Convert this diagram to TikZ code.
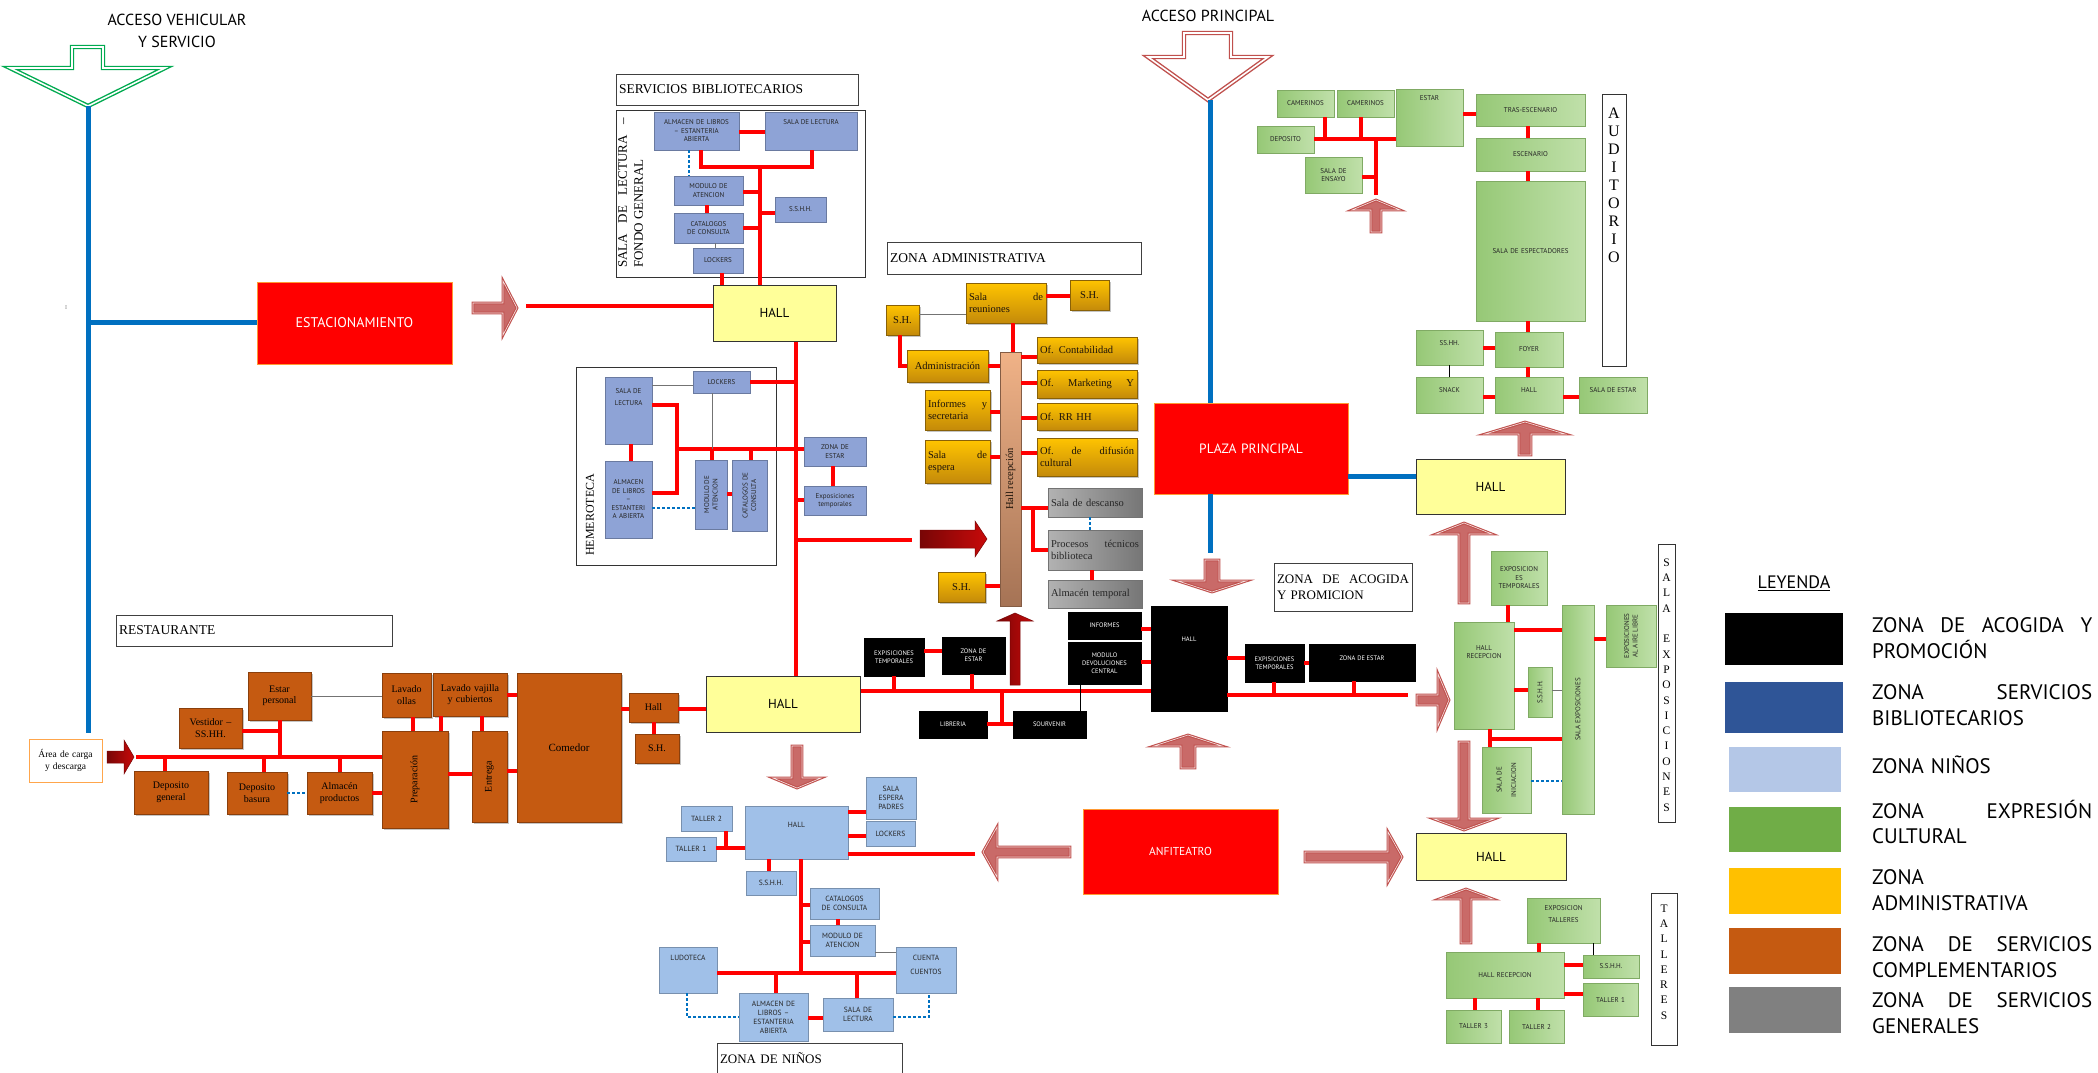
\documentclass[tikz,border=0pt]{standalone}
\usepackage{fontspec}
\setmainfont{Liberation Serif}
\setsansfont{PT Sans}
\usetikzlibrary{shadows}
\definecolor{arrowred}{RGB}{192,80,77}
\definecolor{darkred}{RGB}{200,10,10}
\definecolor{libblue}{RGB}{142,163,214}
\definecolor{kidblue}{RGB}{160,192,232}
\definecolor{culA}{RGB}{150,200,118}
\definecolor{culB}{RGB}{192,224,170}
\definecolor{goldA}{RGB}{255,196,0}
\definecolor{goldB}{RGB}{196,138,10}
\definecolor{grayA}{RGB}{178,178,178}
\definecolor{grayB}{RGB}{118,118,118}
\definecolor{restor}{RGB}{197,90,17}
\definecolor{hallyel}{RGB}{255,255,153}
\definecolor{hrA}{RGB}{240,178,135}
\definecolor{hrB}{RGB}{165,115,85}
\definecolor{lineblue}{RGB}{0,112,192}
\definecolor{entgreen}{RGB}{0,170,80}
\definecolor{legblue}{RGB}{47,85,151}
\definecolor{leglb}{RGB}{180,199,231}
\definecolor{leggr}{RGB}{112,173,71}
\definecolor{leggold}{RGB}{255,192,0}
\definecolor{leggy}{RGB}{128,128,128}
\newcommand\fs[2]{\fontsize{#1}{#2}\selectfont}
\newcommand\bx[7]{\pgfmathsetmacro\bxw{#5-#3}\pgfmathsetmacro\bxh{#6-#4}\pgfmathsetmacro\bxt{max(#5-#3-6,2)}%
 \node[#2,minimum width=\bxw pt,minimum height=\bxh pt,text width=\bxt pt] (#1) at ({(#3+#5)/2},{(#4+#6)/2}) {#7};}
\newcommand\bxT[9]{\bx{#1}{#2}{#3}{#4}{#5}{#6}{}\node[#7,inner sep=0pt,align=center] (#1t) at ({(#3+#5)/2},#8) {#9};}
\newcommand\rtx[3]{\node[#2,rotate=90,align=center,inner sep=0pt] (#1t) at (#1.center) {#3};}
\newcommand\hc[4][rl]{\draw[#1] (#2.east |- 0,#4) -- (#3.west |- 0,#4);}
\newcommand\vc[4][rl]{\draw[#1] (#2.south -| #4,0) -- (#3.north -| #4,0);}
\newcommand\barrow[8]{\begin{scope}[shift={(#2,#3)},rotate=#4]\path[#1] (0,0) -- (-#8,#7) -- (-#8,#6) -- (-#5,#6) -- (-#5,-#6) -- (-#8,-#6) -- (-#8,-#7) -- cycle;\end{scope}}
\newcommand\jl[1]{\makebox[\linewidth]{#1}}
\tikzset{
 bxs/.style={inner sep=0pt, align=center},
 libt/.style={font=\sffamily\fs{7}{8.5}, text=black!85},
 lib/.style={bxs, libt, fill=libblue, draw=libblue!75!black, line width=0.4pt},
 kidt/.style={font=\sffamily\fs{7.5}{9}, text=black!85},
 kid/.style={bxs, kidt, fill=kidblue, draw=kidblue!75!black, line width=0.4pt},
 cult/.style={font=\sffamily\fs{7}{8.5}, text=black!85},
 cul/.style={bxs, cult, left color=culA, right color=culB, draw=culA!85!black, line width=0.3pt},
 admt/.style={font=\rmfamily\fs{10.5}{12}, text=black!85!brown},
 adm/.style={bxs, admt, align=left, top color=goldA, bottom color=goldB, draw=goldB!70!black, line width=0.4pt, drop shadow={shadow xshift=1.5pt, shadow yshift=-1.5pt, fill=black!45}},
 gry/.style={bxs, admt, text=black!85, align=left, left color=grayA, right color=grayB, draw=black!55, line width=0.4pt},
 rstt/.style={font=\rmfamily\fs{10}{11.5}, text=black},
 rst/.style={bxs, rstt, fill=restor, draw=restor!70!black, line width=0.4pt, drop shadow={shadow xshift=1.5pt, shadow yshift=-1.5pt, fill=black!45}},
 blkt/.style={font=\sffamily\fs{6.5}{8}, text=white},
 blk/.style={bxs, blkt, fill=black, draw=black},
 yhall/.style={bxs, fill=hallyel, draw=black!80, line width=1pt, font=\sffamily\fs{13}{15}},
 bigred/.style={bxs, fill=red, draw=orange!80, line width=0.6pt, text=white, font=\sffamily\fs{11.5}{13}},
 ttl/.style={bxs, align=left, fill=white, draw=black!75, line width=1pt, font=\rmfamily\fs{13.5}{15}},
 frame/.style={bxs, draw=black!80, line width=1pt},
 lbox/.style={bxs, fill=white, draw=black!80, line width=1pt},
 cargas/.style={bxs, fill=white, draw=orange!70, line width=0.7pt, font=\rmfamily\fs{9.5}{11.5}},
 hrecs/.style={bxs, top color=hrA, bottom color=hrB, draw=hrB!80!black, line width=0.4pt},
 lett/.style={font=\rmfamily\fs{16}{18}},
 lett2/.style={font=\rmfamily\fs{11.5}{15.3}},
 rl/.style={draw=red, line width=3.2pt},
 bl5/.style={draw=lineblue, line width=5pt},
 bd/.style={draw=lineblue, line width=2.5pt, dash pattern=on 2.5pt off 2.5pt},
 gl/.style={draw=black!55, line width=0.8pt},
 bk/.style={draw=black, line width=1pt},
 harr/.style={fill=arrowred!85!white, draw=arrowred, line width=1.1pt, double=white!85!arrowred, double distance=0.6pt, line join=miter},
 sarr/.style={left color=darkred!60!black, right color=darkred, draw=darkred!60!black, line width=0.5pt},
 entG/.style={draw=entgreen, double=white, line width=1.4pt, double distance=1.6pt, line join=miter},
 entR/.style={draw=arrowred, double=white, line width=1.4pt, double distance=1.6pt, line join=miter},
 sw/.style={bxs},
 legt/.style={font=\sffamily\fs{21}{25.5}, align=left, text width=220pt, inner sep=0pt, anchor=west},
}
\begin{document}
\begin{tikzpicture}[x=1pt,y=-1pt]
\useasboundingbox (0,0) rectangle (2098,1072);
\fill[white] (0,0) rectangle (2098,1072);

% ---------- entrances ----------
\node[font=\sffamily\fs{16}{22}, align=center] (accv) at (177,31) {ACCESO VEHICULAR\\Y SERVICIO};
\draw[entG] (72,47) -- (103,47) -- (103,68) -- (165,68) -- (88,106) -- (10,68) -- (72,68) -- cycle;
\coordinate (gtip) at (88,106);
\node[font=\sffamily\fs{16}{18}] (accp) at (1208,16) {ACCESO PRINCIPAL};
\draw[entR] (1184,33) -- (1231,33) -- (1231,57) -- (1268,57) -- (1208,100) -- (1148,57) -- (1184,57) -- cycle;
\coordinate (rtip) at (1210,100);
\node[font=\fs{6}{7}, text=black!50] (tick) at (66,308) {I};

% ---------- big red zones ----------
\bx{estac}{bigred,font=\sffamily\fs{14}{16}}{257}{282}{452}{364}{ESTACIONAMIENTO}
\bx{plaza}{bigred,font=\sffamily\fs{13.5}{16}}{1154}{403}{1348}{494}{PLAZA PRINCIPAL}
\bx{anfi}{bigred}{1083}{809}{1278}{894}{ANFITEATRO}

\draw[bl5] (gtip) -- (88,733);
\draw[bl5] (88,322) -- (estac.west |- 0,322);
\draw[bl5] (rtip) -- (plaza.north -| 1210,0);
\draw[bl5] (plaza.south -| 1210,0) -- (1210,553);

% ---------- servicios bibliotecarios ----------
\bx{serT}{ttl}{616}{74}{858}{105}{SERVICIOS BIBLIOTECARIOS}
\bx{serO}{frame}{616}{110}{865}{277}{}
\node[rotate=90, anchor=north west, font=\rmfamily\fs{13}{16}, align=left, inner sep=0pt] (serL) at (618,268) {\makebox[150pt]{SALA\hfill DE\hfill LECTURA\hfill –}\\FONDO GENERAL};
\bx{salm}{lib}{654}{112}{739}{150}{ALMACEN DE LIBROS\\– ESTANTERIA\\ABIERTA}
\bxT{slec}{lib}{765}{112}{857}{150}{libt}{122}{SALA DE LECTURA}
\bx{smod}{lib}{674}{176}{743}{205}{MODULO DE\\ATENCION}
\bx{sssh}{lib}{775}{197}{826}{222}{S.S.H.H.}
\bx{scat}{lib}{674}{213}{743}{243}{CATALOGOS\\DE CONSULTA}
\bx{slock}{lib}{693}{248}{743}{273}{LOCKERS}
\bx{hall1}{yhall}{713}{285}{836}{341}{HALL}
\hc{salm}{slec}{132}
\draw[rl] (salm.south -| 701,0) -- (701,167) -| (slec.south -| 812,0);
\draw[rl] (760,167) -- (hall1.north -| 760,0);
\draw[rl] (smod.east |- 0,192) -- (760,192);
\draw[rl] (760,213) -- (sssh.west |- 0,213);
\draw[rl] (scat.east |- 0,228) -- (760,228);
\vc{smod}{scat}{707}
\vc[bd]{salm}{smod}{689}
\vc[gl]{scat}{slock}{715}
\draw[rl] (slock.south -| 722,0) -- (hall1.north -| 722,0);
\barrow{harr}{517}{308}{0}{44}{5}{27}{14}
\draw[rl] (526,306) -- (hall1.west |- 0,306);

% ---------- hemeroteca ----------
\bx{hemO}{frame}{576}{367}{776}{565}{}
\node[rotate=90, anchor=west, font=\rmfamily\fs{12}{13}, inner sep=0pt] (hemL) at (590,556) {HEMEROTECA};
\bxT{hlec}{lib}{605}{377}{652}{444}{libt}{397}{SALA DE\\[3pt]LECTURA}
\bx{hlock}{lib}{693}{371}{750}{393}{LOCKERS}
\bx{halm}{lib}{605}{461}{652}{538}{ALMACEN\\DE LIBROS\\–\\ESTANTERI\\A ABIERTA}
\bx{hmod}{lib}{695}{460}{727}{529}{}
\rtx{hmod}{libt}{MODULO DE\\ATENCION}
\bx{hcat}{lib}{732}{460}{767}{531}{}
\rtx{hcat}{libt}{CATALOGOS DE\\CONSULTA}
\bx{hzon}{lib}{804}{437}{866}{466}{ZONA DE\\ESTAR}
\bx{hexp}{lib}{804}{486}{866}{515}{Exposiciones\\temporales}
\hc[gl]{hlec}{hlock}{385}
\draw[rl] (hlock.east |- 0,382) -- (796,382);
\draw[rl] (hlec.east |- 0,405) -| (677,493) -- (halm.east |- 0,493);
\draw[rl] (677,449) -- (hzon.west |- 0,449);
\draw[gl] (hlock.south -| 712,0) -- (712,449);
\vc{hlec}{halm}{631}
\draw[rl] (712,449) -- (hmod.north -| 712,0);
\draw[rl] (751,449) -- (hcat.north -| 751,0);
\hc{hmod}{hcat}{494}
\hc[bd]{halm}{hmod}{508}
\vc{hzon}{hexp}{833}
\draw[rl] (796,500) -- (hexp.west |- 0,500);
\draw[rl] (796,540) -- (912,540);
\barrow{sarr}{987}{539}{0}{67}{9}{18}{12}

% ---------- zona administrativa ----------
\bx{admT}{ttl}{887}{242}{1141}{274}{ZONA ADMINISTRATIVA}
\bx{hrec}{hrecs}{1000}{352}{1021}{606}{}
\rtx{hrec}{admt}{Hall recepción}
\bx{reun}{adm}{966}{283}{1046}{323}{\jl{Sala\hfill de}\\reuniones}
\bx{sh1}{adm,align=center}{1070}{280}{1109}{310}{S.H.}
\bx{sh2}{adm,align=center}{886}{305}{919}{335}{S.H.}
\bx{admn}{adm,align=center}{907}{350}{988}{382}{Administración}
\bx{info}{adm}{925}{390}{990}{430}{\jl{Informes\hfill y}\\secretaria}
\bx{sesp}{adm}{925}{440}{990}{483}{\jl{Sala\hfill de}\\espera}
\bx{cont}{adm}{1037}{337}{1137}{363}{Of. Contabilidad}
\bx{mark}{adm}{1037}{370}{1137}{398}{\jl{Of.\hfill Marketing\hfill Y}}
\bx{rrhh}{adm}{1037}{403}{1137}{430}{Of. RR HH}
\bx{difu}{adm}{1037}{438}{1137}{476}{\jl{Of.\hfill de\hfill difusión}\\cultural}
\bx{desc}{gry}{1048}{488}{1142}{517}{Sala de descanso}
\bx{proc}{gry}{1048}{530}{1142}{570}{\jl{Procesos\hfill técnicos}\\biblioteca}
\bx{almt}{gry}{1048}{580}{1142}{608}{Almacén temporal}
\bx{shb}{adm,align=center}{938}{572}{985}{602}{S.H.}
\vc{reun}{hrec}{1013}
\hc{reun}{sh1}{296}
\hc[gl]{sh2}{reun}{314}
\draw[rl] (sh2.south -| 900,0) |- (admn.west |- 0,366);
\hc{admn}{hrec}{366}
\hc{info}{hrec}{412}
\hc{sesp}{hrec}{457}
\hc{shb}{hrec}{586}
\hc{hrec}{cont}{357}
\hc{hrec}{mark}{383}
\hc{hrec}{rrhh}{418}
\hc{hrec}{difu}{453}
\hc{hrec}{desc}{508}
\draw[rl] (1033,508) |- (proc.west |- 0,550);
\vc[bd]{desc}{proc}{1090}
\vc{proc}{almt}{1092}

% ---------- zona de acogida ----------
\bx{hallM}{yhall}{706}{676}{860}{732}{HALL}
\bx{exp1}{blk}{864}{638}{924}{676}{EXPISICIONES\\TEMPORALES}
\bx{zes1}{blk}{942}{637}{1005}{674}{ZONA DE\\ESTAR}
\bx{libr}{blk}{919}{711}{987}{738}{LIBRERIA}
\bx{souv}{blk}{1013}{711}{1086}{738}{SOURVENIR}
\bx{infm}{blk}{1068}{612}{1141}{639}{INFORMES}
\bx{mdev}{blk}{1068}{642}{1141}{684}{MODULO\\DEVOLUCIONES\\CENTRAL}
\bxT{hallB}{blk}{1151}{606}{1227}{711}{blkt}{639}{HALL}
\bx{exp2}{blk}{1245}{644}{1304}{682}{EXPISICIONES\\TEMPORALES}
\bxT{zes2}{blk}{1309}{644}{1415}{681}{blkt}{658}{ZONA DE ESTAR}
\bx{acog}{ttl,font=\rmfamily\fs{13}{16}}{1274}{563}{1412}{611}{\jl{ZONA\hfill DE\hfill ACOGIDA}\\Y PROMICION}
\vc{hall1}{hallM}{796}
\draw[rl] (hallM.east |- 0,691) -- (hallB.west |- 0,691);
\draw[rl] (exp1.south -| 894,0) -- (894,691);
\draw[rl] (zes1.south -| 972,0) -- (972,691);
\hc{exp1}{zes1}{651}
\draw[rl] (1002,691) -- (1002,724);
\hc{libr}{souv}{724}
\hc{infm}{hallB}{629}
\hc{mdev}{hallB}{662}
\vc[bk]{mdev}{souv}{1080}
\hc{hallB}{exp2}{658}
\hc{exp2}{zes2}{663}
\draw[rl] (hallB.east |- 0,695) -- (1408,695);
\draw[rl] (exp2.south -| 1274,0) -- (1274,695);
\draw[rl] (zes2.south -| 1354,0) -- (1354,695);
\barrow{sarr}{1015}{613}{90}{72}{5}{18}{8}
\barrow{harr}{1212}{592}{-90}{32}{7}{34}{11}
\barrow{harr}{1188}{735}{90}{33}{7}{34}{11}
\barrow{harr}{1402}{857}{0}{97}{5}{25}{14}
\barrow{harr}{983}{852}{180}{87}{5}{25}{14}
\barrow{harr}{797}{788}{-90}{42}{5}{24}{10}

% ---------- right halls ----------
\bx{hallP}{yhall}{1416}{459}{1565}{514}{HALL}
\bx{hallL}{yhall}{1416}{833}{1566}{880}{HALL}
\draw[bl5] (plaza.east |- 0,476) -- (hallP.west |- 0,476);

% ---------- auditorio ----------
\bx{cam1}{cul}{1277}{90}{1334}{117}{CAMERINOS}
\bx{cam2}{cul}{1337}{90}{1394}{117}{CAMERINOS}
\bxT{estA}{cul}{1396}{89}{1463}{146}{cult}{98}{ESTAR}
\bx{depA}{cul}{1257}{126}{1314}{153}{DEPOSITO}
\bx{ensA}{cul}{1305}{157}{1362}{193}{SALA DE\\ENSAYO}
\bx{tras}{cul}{1476}{94}{1585}{126}{TRAS-ESCENARIO}
\bx{escA}{cul}{1476}{138}{1585}{171}{ESCENARIO}
\bx{spec}{cul}{1476}{181}{1585}{321}{SALA DE ESPECTADORES}
\bx{foyA}{cul}{1495}{332}{1563}{367}{FOYER}
\bxT{ssA}{cul}{1416}{330}{1483}{365}{cult}{343}{SS.HH.}
\bxT{snkA}{cul}{1416}{377}{1483}{413}{cult}{390}{SNACK}
\bxT{hallA}{cul}{1495}{377}{1563}{413}{cult}{390}{HALL}
\bxT{sestA}{cul}{1579}{377}{1647}{413}{cult}{390}{SALA DE ESTAR}
\bxT{audL}{lbox}{1602}{94}{1626}{366}{lett}{185}{A\\U\\D\\I\\T\\O\\R\\I\\O}
\draw[rl] (depA.east |- 0,139) -- (estA.west |- 0,139);
\draw[rl] (cam1.south -| 1325,0) -- (1325,139);
\draw[rl] (cam2.south -| 1361,0) -- (1361,139);
\draw[rl] (1376,139) -- (1376,195);
\draw[rl] (ensA.east |- 0,177) -- (1376,177);
\barrow{harr}{1376}{200}{90}{32}{5}{24}{10}
\hc{estA}{tras}{114}
\vc{tras}{escA}{1528}
\vc{escA}{spec}{1528}
\vc{spec}{foyA}{1528}
\hc{ssA}{foyA}{348}
\vc[bk]{ssA}{snkA}{1449}
\vc{foyA}{hallA}{1528}
\hc{snkA}{hallA}{397}
\hc{hallA}{sestA}{397}
\barrow{harr}{1525}{422}{90}{33}{6}{40}{12}

% ---------- sala exposiciones ----------
\bx{expT}{cul}{1491}{551}{1547}{605}{EXPOSICION\\ES\\TEMPORALES}
\bxT{hallRE}{cul}{1454}{622}{1514}{729}{cult}{652}{HALL\\RECEPCION}
\bx{salaEx}{cul}{1562}{605}{1594}{814}{}
\rtx{salaEx}{cult}{SALA EXPOSICIONES}
\bx{aire}{cul}{1606}{605}{1656}{667}{}
\rtx{aire}{cult}{EXPOSICIONES\\AL AIRE LIBRE}
\bx{ssE}{cul}{1528}{667}{1552}{717}{}
\rtx{ssE}{cult}{S.S.H.H.}
\bx{inic}{cul}{1482}{747}{1531}{813}{}
\rtx{inic}{cult}{SALA DE\\[6pt]INICIACION}
\bxT{sexL}{lbox}{1658}{544}{1675}{822}{lett2}{685}{S\\A\\L\\A\\\mbox{}\\E\\X\\P\\O\\S\\I\\C\\I\\O\\N\\E\\S}
\vc{expT}{hallRE}{1508}
\hc{hallRE}{salaEx}{630}
\hc{salaEx}{aire}{639}
\hc{hallRE}{ssE}{690}
\hc[gl]{ssE}{salaEx}{690}
\draw[rl] (salaEx.west |- 0,739) -| (hallRE.south -| 1490,0);
\draw[rl] (1490,739) -- (inic.north -| 1490,0);
\hc[bd]{inic}{salaEx}{781}
\barrow{harr}{1449}{700}{0}{32}{5}{26}{11}
\barrow{harr}{1464}{523}{90}{80}{5}{28}{11}
\barrow{harr}{1464}{830}{-90}{88}{5}{30}{11}

% ---------- talleres ----------
\bxT{expTa}{cul}{1527}{898}{1600}{943}{cult}{914}{EXPOSICION\\[3pt]TALLERES}
\bx{hallTa}{cul}{1446}{952}{1564}{998}{HALL RECEPCION}
\bx{ssTa}{cul}{1583}{955}{1639}{978}{S.S.H.H.}
\bx{t1Ta}{cul}{1583}{983}{1638}{1016}{TALLER 1}
\bx{t3Ta}{cul}{1446}{1010}{1501}{1043}{TALLER 3}
\bx{t2Ta}{cul}{1509}{1010}{1564}{1043}{TALLER 2}
\bxT{talL}{lbox}{1651}{893}{1677}{1045}{lett2}{962}{T\\A\\L\\L\\E\\R\\E\\S}
\vc{expTa}{hallTa}{1539}
\hc{hallTa}{ssTa}{965}
\vc[bk]{expTa}{ssTa}{1593}
\hc{hallTa}{t1Ta}{994}
\vc{hallTa}{t3Ta}{1475}
\vc{hallTa}{t2Ta}{1538}
\barrow{harr}{1466}{889}{90}{54}{5}{27}{10}

% ---------- zona de ninos ----------
\bxT{hallN}{kid}{745}{806}{848}{859}{kidt}{825}{HALL}
\bx{espN}{kid}{866}{777}{916}{819}{SALA\\ESPERA\\PADRES}
\bx{lockN}{kid}{866}{821}{915}{846}{LOCKERS}
\bx{t2N}{kid}{681}{806}{732}{831}{TALLER 2}
\bx{t1N}{kid}{666}{837}{716}{861}{TALLER 1}
\bx{ssN}{kid}{746}{871}{796}{895}{S.S.H.H.}
\bx{catN}{kid}{810}{888}{879}{919}{CATALOGOS\\DE CONSULTA}
\bx{modN}{kid}{810}{925}{875}{956}{MODULO DE\\ATENCION}
\bxT{ludo}{kid}{659}{947}{717}{993}{kidt}{958}{LUDOTECA}
\bxT{cuen}{kid}{896}{947}{956}{993}{kidt}{965}{CUENTA\\[5pt]CUENTOS}
\bx{almN}{kid}{739}{993}{808}{1041}{ALMACEN DE\\LIBROS –\\ESTANTERIA\\ABIERTA}
\bx{salN}{kid}{823}{998}{893}{1031}{SALA DE\\LECTURA}
\bx{ninT}{ttl,font=\rmfamily\fs{13}{14}}{717}{1043}{902}{1074}{ZONA DE NIÑOS}
\hc{hallN}{espN}{812}
\hc{hallN}{lockN}{836}
\draw[rl] (hallN.east |- 0,854) -- (975,854);
\hc{t1N}{hallN}{848}
\draw[rl] (t2N.south -| 726,0) -- (726,848);
\vc{hallN}{ssN}{769}
\draw[rl] (hallN.south -| 801,0) -- (801,973);
\draw[rl] (801,905) -- (catN.west |- 0,905);
\draw[rl] (801,942) -- (modN.west |- 0,942);
\vc{catN}{modN}{838}
\hc[gl]{modN}{cuen}{952}
\hc{ludo}{cuen}{973}
\draw[rl] (776,973) -- (almN.north -| 776,0);
\draw[rl] (857,973) -- (salN.north -| 857,0);
\hc{almN}{salN}{1018}
\draw[bd] (ludo.south -| 687,0) |- (almN.west |- 0,1017);
\draw[bd] (salN.east |- 0,1017) -| (cuen.south -| 929,0);

% ---------- restaurante ----------
\bx{restT}{ttl}{116}{615}{392}{646}{RESTAURANTE}
\bx{carga}{cargas}{29}{739}{102}{782}{Área de carga\\y descarga}
\bx{dgen}{rst}{134}{771}{208}{814}{Deposito\\general}
\bx{dbas}{rst}{227}{772}{287}{814}{Deposito\\basura}
\bx{aprod}{rst}{307}{772}{372}{814}{Almacén\\productos}
\bx{vest}{rst}{179}{708}{242}{748}{Vestidor –\\SS.HH.}
\bx{estp}{rst}{248}{672}{311}{720}{Estar\\personal}
\bx{loll}{rst}{382}{673}{431}{717}{Lavado\\ollas}
\bx{vaj}{rst}{433}{673}{507}{716}{Lavado vajilla\\y cubiertos}
\bx{prep}{rst}{382}{731}{448}{828}{}
\rtx{prep}{rstt}{Preparación}
\bx{entr}{rst}{472}{731}{507}{822}{}
\rtx{entr}{rstt}{Entrega}
\bx{come}{rst,font=\rmfamily\fs{11}{13}}{517}{673}{621}{822}{Comedor}
\bx{hallR}{rst}{629}{693}{678}{722}{Hall}
\bx{shR}{rst}{635}{734}{679}{763}{S.H.}
\barrow{sarr}{134}{757}{0}{27}{6}{17}{10}
\draw[rl] (136,757) -- (prep.west |- 0,757);
\draw[rl] (165,757) -- (dgen.north -| 165,0);
\draw[rl] (264,757) -- (dbas.north -| 264,0);
\draw[rl] (340,757) -- (aprod.north -| 340,0);
\hc[bd]{dbas}{aprod}{793}
\hc{aprod}{prep}{793}
\draw[rl] (estp.south -| 280,0) -- (280,757);
\draw[rl] (vest.east |- 0,731) -- (280,731);
\hc[gl]{estp}{loll}{696}
\vc{loll}{prep}{413}
\vc{vaj}{prep}{441}
\vc{vaj}{entr}{482}
\hc{prep}{entr}{774}
\hc{vaj}{come}{695}
\hc{entr}{come}{771}
\hc{come}{hallR}{709}
\hc{hallR}{hallM}{709}
\vc{hallR}{shR}{654}

% ---------- leyenda ----------
\node[font=\sffamily\fs{18}{20}] (leyT) at (1794,583) {\underline{LEYENDA}};
\bx{lg1}{sw,fill=black}{1725}{613}{1843}{665}{}
\bx{lg2}{sw,fill=legblue}{1725}{682}{1843}{733}{}
\bx{lg3}{sw,fill=leglb}{1729}{747}{1841}{792}{}
\bx{lg4}{sw,fill=leggr}{1729}{807}{1841}{852}{}
\bx{lg5}{sw,fill=leggold}{1729}{868}{1841}{914}{}
\bx{lg6}{sw,fill=restor}{1729}{928}{1841}{974}{}
\bx{lg7}{sw,fill=leggy}{1729}{987}{1841}{1033}{}
\node[legt] (lg1t) at (1872,638) {\jl{ZONA\hfill DE\hfill ACOGIDA\hfill Y}\\PROMOCIÓN};
\node[legt] (lg2t) at (1872,705) {\jl{ZONA\hfill SERVICIOS}\\BIBLIOTECARIOS};
\node[legt] (lg3t) at (1872,765) {ZONA NIÑOS};
\node[legt] (lg4t) at (1872,822) {\jl{ZONA\hfill EXPRESIÓN}\\CULTURAL};
\node[legt] (lg5t) at (1872,890) {ZONA\\ADMINISTRATIVA};
\node[legt] (lg6t) at (1872,957) {\jl{ZONA\hfill DE\hfill SERVICIOS}\\COMPLEMENTARIOS};
\node[legt] (lg7t) at (1872,1013) {\jl{ZONA\hfill DE\hfill SERVICIOS}\\GENERALES};
\end{tikzpicture}
\end{document}
